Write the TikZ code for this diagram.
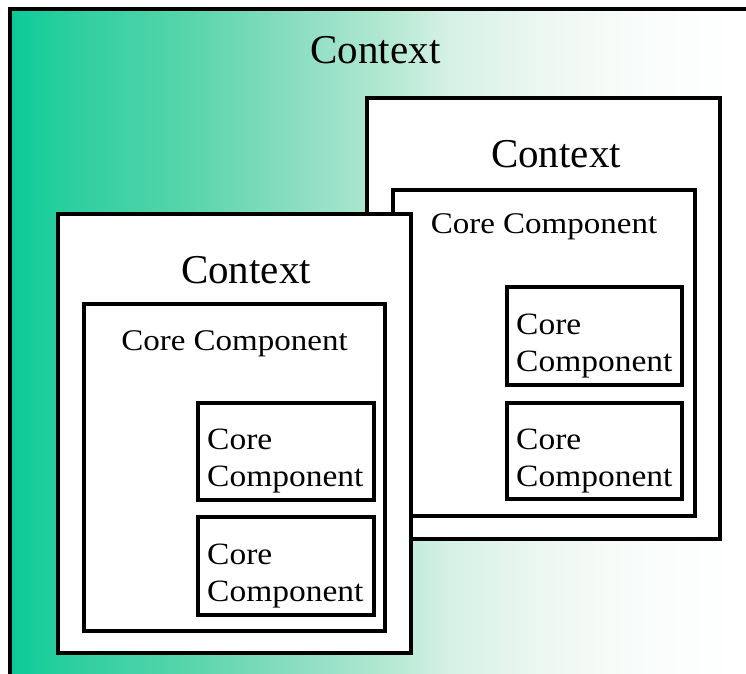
\documentclass[tikz,border=0pt]{standalone}
\usepackage{fontspec}
\setmainfont{Liberation Serif}
\newfontfamily\headfont[FakeStretch=1.1]{Liberation Serif}
\newfontfamily\partfont[FakeStretch=1.08]{Liberation Serif}

% green-to-white fade behind the outermost context
\definecolor{fadeA}{RGB}{10,202,152}
\definecolor{fadeB}{RGB}{40,206,158}
\definecolor{fadeC}{RGB}{88,213,171}
\definecolor{fadeD}{RGB}{140,222,195}
\definecolor{fadeE}{RGB}{179,232,210}
\definecolor{fadeF}{RGB}{214,241,230}
\definecolor{fadeG}{RGB}{238,248,243}
\definecolor{fadeH}{RGB}{250,253,251}
\pgfdeclarehorizontalshading{ctxfade}{100bp}{%
  color(0bp)=(fadeA); color(25bp)=(fadeA); color(28.3bp)=(fadeB);
  color(37bp)=(fadeC); color(44.3bp)=(fadeD); color(50bp)=(fadeE);
  color(54.3bp)=(fadeF); color(61bp)=(fadeG); color(67.7bp)=(fadeH);
  color(74bp)=(white); color(100bp)=(white)}

\begin{document}
\begin{tikzpicture}[x=1pt,y=-1pt,
  box/.style={draw=black, line width=3.8pt, rectangle, inner sep=0pt, outer sep=0pt},
  paper/.style={box, fill=white},
  ctxlabel/.style={font=\fontsize{41}{48}\selectfont, inner sep=0pt, anchor=base},
  cclabel/.style={font=\headfont\fontsize{30}{35}\selectfont, inner sep=0pt, anchor=base},
  partlabel/.style={font=\partfont\fontsize{31}{36}\selectfont, inner sep=0pt, anchor=base west}]
\useasboundingbox (0,0) rectangle (746,673);
\clip (0,0) rectangle (746,673);

% outermost context (runs off the right and bottom edges)
\node[box, shade, shading=ctxfade, minimum width=750pt, minimum height=691pt] (world) at (385,354.5) {};
\node[ctxlabel] (worldtitle) at (375.5,63) {Context};

% rear context
\node[paper, minimum width=353pt, minimum height=441pt] (rear) at (543.5,318.5) {};
\node[ctxlabel] (reartitle) at (556,167) {Context};
\node[paper, minimum width=302pt, minimum height=326pt] (rearcore) at (544,353) {};
\node[cclabel] (rearcoretitle) at (544,233) {Core Component};
\node[paper, minimum width=175pt, minimum height=98pt] (rearpartA) at (594.5,336) {};
\node[partlabel] (rearpartAa) at (516,334) {Core};
\node[partlabel] (rearpartAb) at (516,371) {Component};
\node[paper, minimum width=175pt, minimum height=96pt] (rearpartB) at (594.5,451) {};
\node[partlabel] (rearpartBa) at (516,449) {Core};
\node[partlabel] (rearpartBb) at (516,486) {Component};

% front context
\node[paper, minimum width=353pt, minimum height=439pt] (front) at (234.5,433.5) {};
\node[ctxlabel] (fronttitle) at (246,283) {Context};
\node[paper, minimum width=301pt, minimum height=327pt] (frontcore) at (234.5,467.5) {};
\node[cclabel] (frontcoretitle) at (234.5,350) {Core Component};
\node[paper, minimum width=176pt, minimum height=97pt] (frontpartA) at (286,451.5) {};
\node[partlabel] (frontpartAa) at (207,449) {Core};
\node[partlabel] (frontpartAb) at (207,486) {Component};
\node[paper, minimum width=176pt, minimum height=98pt] (frontpartB) at (286,566) {};
\node[partlabel] (frontpartBa) at (207,564) {Core};
\node[partlabel] (frontpartBb) at (207,601) {Component};
\end{tikzpicture}
\end{document}
